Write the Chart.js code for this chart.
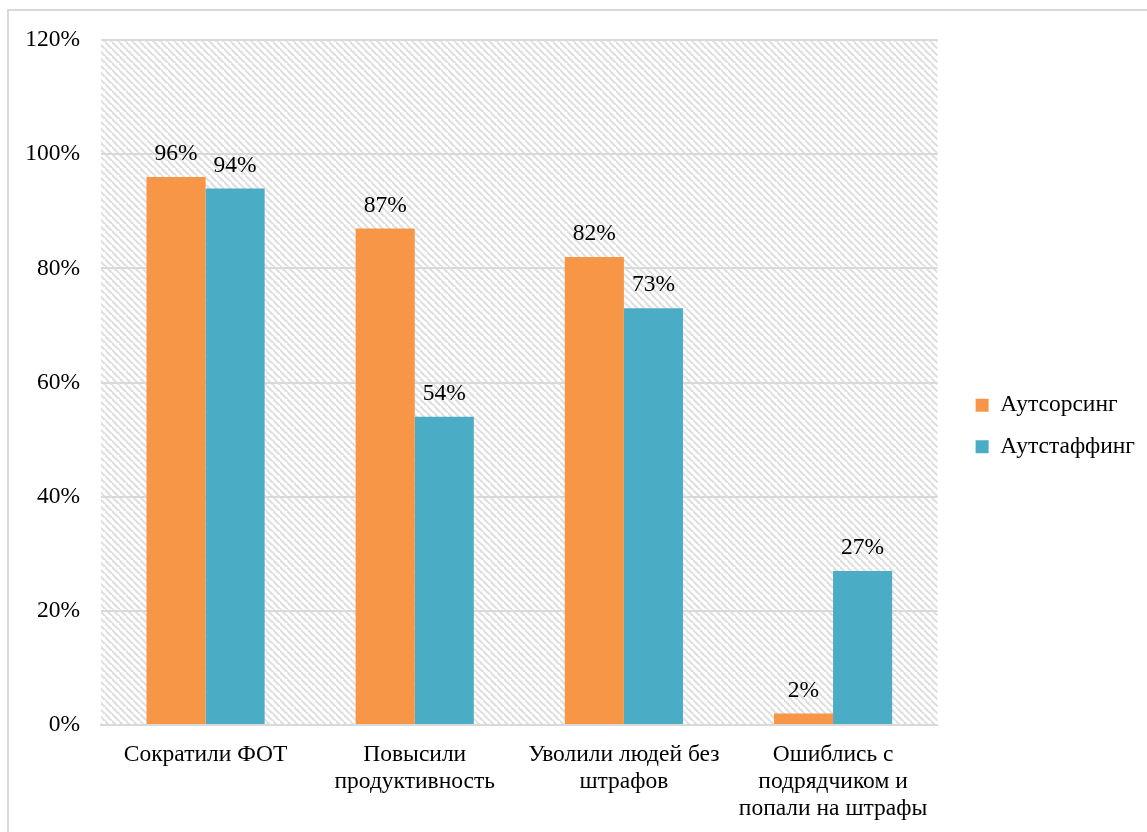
<!DOCTYPE html>
<html lang="ru">
<head>
    <meta charset="UTF-8">
    <title>Аутсорсинг и аутстаффинг</title>
    <style>
        body { margin: 0; background: #fff; overflow: hidden; }
        #frame { position: absolute; left: 7px; top: 9px; width: 1160px; height: 840px; border: 2px solid #d9d9d9; }
        #wrap { position: absolute; left: 0; top: 0; width: 1147px; height: 832px; }
    </style>
</head>
<body>
    <div id="frame"></div>
    <div id="wrap"><canvas id="chart" width="1147" height="832"></canvas></div>

    <script src="https://cdn.jsdelivr.net/npm/chart.js"></script>
    <script>
        // data
        var categories = [
            'Сократили ФОТ',
            ['Повысили', 'продуктивность'],
            ['Уволили людей без', 'штрафов'],
            ['Ошиблись с', 'подрядчиком и', 'попали на штрафы']
        ];
        var outsourcing = [96, 87, 82, 2];
        var outstaffing = [94, 54, 73, 27];
        var seriesNames = ['Аутсорсинг', 'Аутстаффинг'];

        var FONT = '"Liberation Serif", "Times New Roman", serif';
        var FS = 23.5;

        // diagonal hatch for the plot background
        function makeHatch() {
            var s = 7;
            var c = document.createElement('canvas');
            c.width = s; c.height = s;
            var g = c.getContext('2d');
            g.fillStyle = '#fff';
            g.fillRect(0, 0, s, s);
            g.strokeStyle = '#dedede';
            g.lineWidth = 2;
            g.beginPath();
            g.moveTo(-1, -1); g.lineTo(s + 1, s + 1);
            g.moveTo(-s - 1, -1); g.lineTo(1, s + 1);
            g.moveTo(s - 1, -s - 1); g.lineTo(2 * s + 1, s + 1);
            g.stroke();
            return g.createPattern(c, 'repeat');
        }

        var hatchBg = {
            id: 'hatchBg',
            beforeDraw: function(chart) {
                var a = chart.chartArea, ctx = chart.ctx;
                ctx.save();
                ctx.fillStyle = makeHatch();
                ctx.fillRect(a.left, a.top, a.right - a.left, a.bottom - a.top);
                ctx.restore();
            }
        };

        // push the legend a bit away from the plot
        var legendShift = {
            id: 'legendShift',
            afterLayout: function(chart) {
                chart.legend.left += 20;
                chart.legend.right += 20;
                chart.legend.top -= 10;
                chart.legend.bottom -= 10;
            }
        };

        var valueLabels = {
            id: 'valueLabels',
            afterDatasetsDraw: function(chart) {
                var ctx = chart.ctx;
                ctx.save();
                ctx.font = FS + 'px ' + FONT;
                ctx.fillStyle = '#000';
                ctx.textAlign = 'center';
                ctx.textBaseline = 'middle';
                chart.data.datasets.forEach(function(ds, i) {
                    chart.getDatasetMeta(i).data.forEach(function(bar, j) {
                        ctx.fillText(ds.data[j] + '%', bar.x, bar.y - 23);
                    });
                });
                ctx.restore();
            }
        };

        var ctx = document.getElementById('chart').getContext('2d');
        var chart = new Chart(ctx, {
            type: 'bar',
            data: {
                labels: categories,
                datasets: [
                    { label: seriesNames[0], data: outsourcing, backgroundColor: '#F79646' },
                    { label: seriesNames[1], data: outstaffing, backgroundColor: '#4BACC6' }
                ]
            },
            options: {
                responsive: false,
                animation: false,
                devicePixelRatio: 1,
                categoryPercentage: 0.565,
                barPercentage: 1.0,
                layout: { padding: { top: 40, right: 22, bottom: 0, left: 0 } },
                plugins: {
                    tooltip: { enabled: false },
                    legend: {
                        position: 'right',
                        align: 'center',
                        labels: {
                            font: { family: FONT, size: FS },
                            color: '#000',
                            boxWidth: 13,
                            boxHeight: 13,
                            padding: 18
                        }
                    }
                },
                scales: {
                    x: {
                        afterFit: function(scale) { scale.height = 107; },
                        grid: { display: false },
                        border: { color: '#d9d9d9', width: 2 },
                        ticks: {
                            font: { family: FONT, size: FS, lineHeight: 1.13 },
                            color: '#000',
                            maxRotation: 0,
                            autoSkip: false,
                            padding: 9
                        }
                    },
                    y: {
                        min: 0,
                        max: 120,
                        afterFit: function(scale) { scale.width = 101; },
                        grid: { color: '#d9d9d9', lineWidth: 2, drawTicks: false },
                        border: { display: false },
                        ticks: {
                            stepSize: 20,
                            font: { family: FONT, size: FS },
                            color: '#000',
                            padding: 21,
                            callback: function(v) { return v + '%'; }
                        }
                    }
                }
            },
            plugins: [hatchBg, legendShift, valueLabels]
        });
    </script>
</body>
</html>
